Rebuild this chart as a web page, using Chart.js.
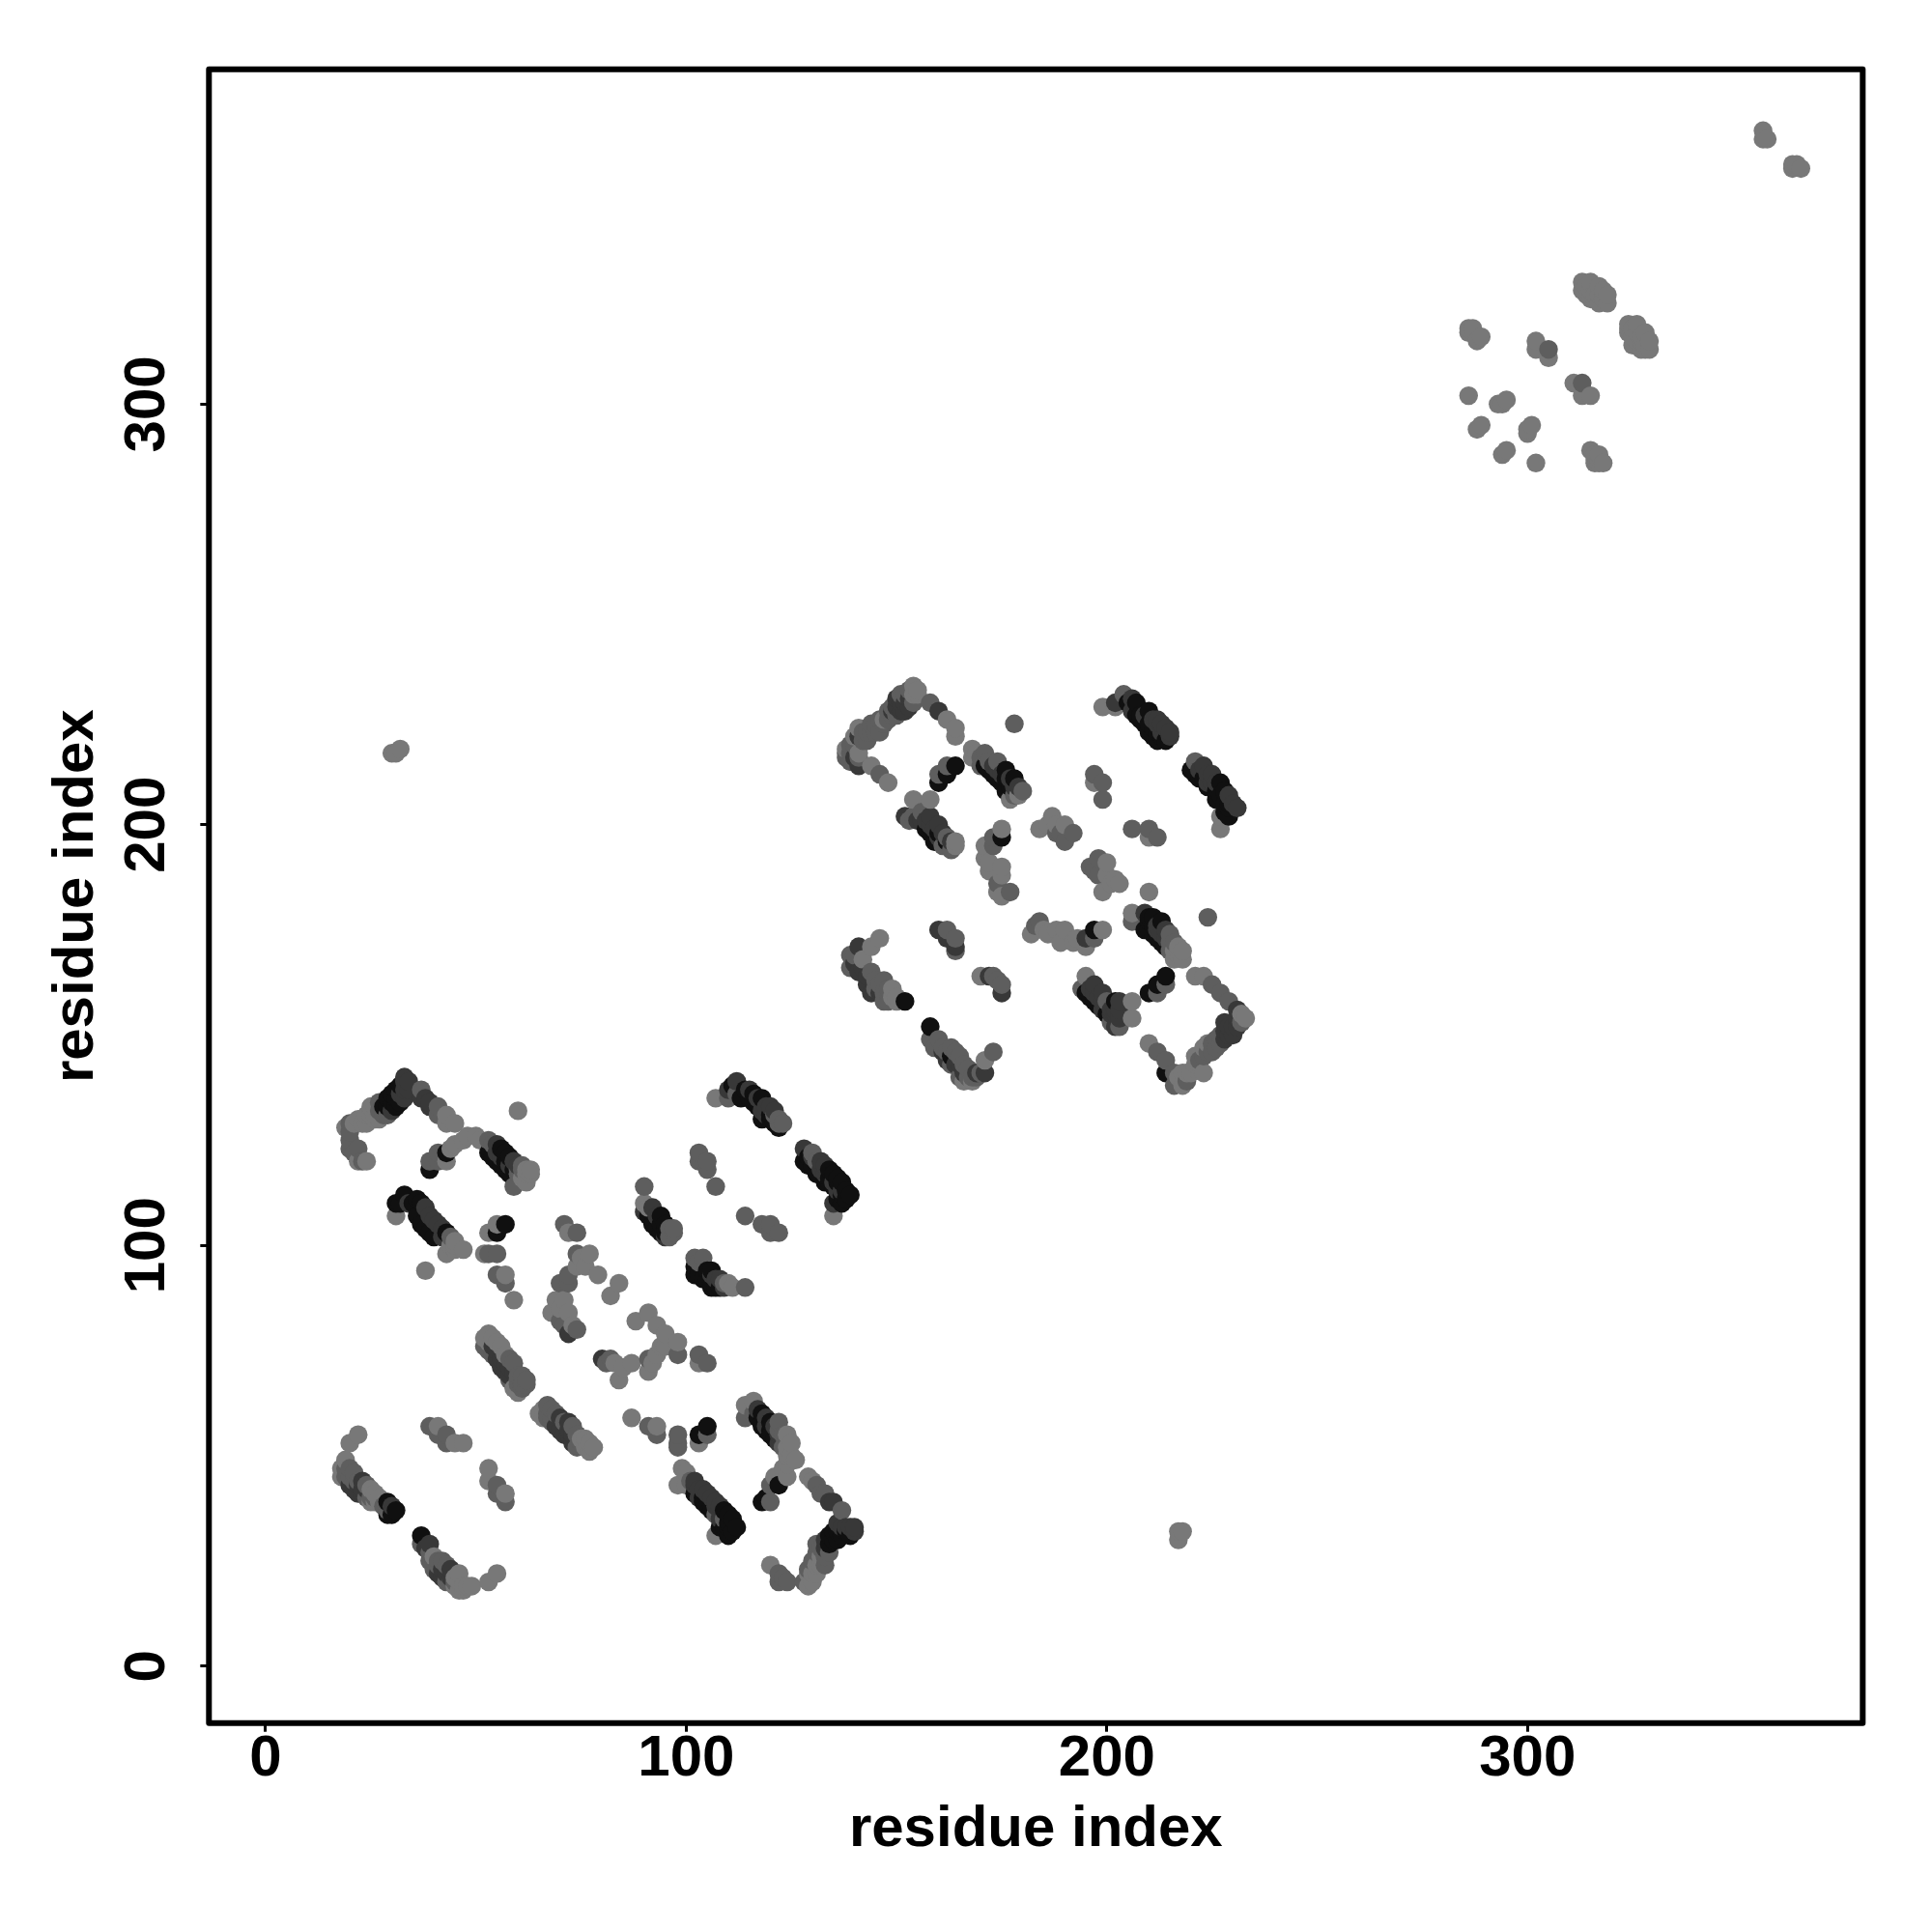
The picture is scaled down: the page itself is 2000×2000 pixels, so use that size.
<!DOCTYPE html>
<html><head><meta charset="utf-8">
<script src="https://cdn.jsdelivr.net/npm/chart.js@4"></script>
<style>html,body{margin:0;padding:0;background:#fff}canvas{display:block}</style>
</head><body><canvas id="c" width="2000" height="2000"></canvas>
<script>
// each contact: [residue i, residue j, strength level]
const xTicks=[0,100,200,300];
const yTicks=[0,100,200,300];
const axisLabel="residue index";
const levelGrays=[120,94,56,16];
const domainA1=[[19,128,0],[20,127,1],[20,129,1],[21,129,0],[22,130,0],[23,129,0],[24,131,0],[25,131,0],[26,131,0],[27,132,1],[28,133,3],[29,133,3],[29,135,3],[30,134,3],[30,136,3],[31,135,3],[31,137,3],[32,136,2],[32,138,3],[33,137,2],[33,139,2],
[24,129,0],[25,133,0],[26,133,0],[27,130,0],[28,131,1],[29,131,1],[30,132,2],[31,133,3],[32,134,3],[33,135,2],[34,137,2],[34,139,2],[33,140,2],[27,134,1],[26,130,0],
[20,125,1],[20,123,1],[21,122,1],[22,123,1],[22,120,0],[23,120,1],[24,120,0],
[37,137,1],[37,135,2],[38,135,2],[39,134,2],[39,133,2],[41,133,1],[41,131,1],[43,131,0],[43,129,0],[45,129,0],
[39,118,3],[39,120,1],[41,122,1],[41,120,1],[43,122,3],[43,120,0],[44,123,0],[45,124,0],[47,125,0],[48,126,0],[50,126,0],[51,125,0],[53,125,1],[53,122,3],[54,121,3],[55,124,2],[55,120,3],[56,123,3],[56,119,3],[57,122,3],[57,118,3],[58,121,3],[58,117,3],[59,120,2],[59,114,1],[60,119,2],[60,118,1],[61,116,0],[62,117,0],[63,118,0],
[54,124,1],[55,122,2],[56,121,2],[57,120,3],[58,119,2],[59,118,3],[60,117,1],[61,118,1],[62,115,0],[61,119,1],[62,118,0],[63,117,0],
[60,132,0]];
const domainA2=[[31,110,3],[31,107,0],[32,110,3],[33,112,3],[34,110,2],[35,110,3],[36,111,3],[37,110,3],[36,107,3],[37,105,3],[38,109,2],[38,104,3],[39,107,2],[39,103,3],[40,106,2],[40,102,3],[41,105,2],[42,104,2],[42,102,2],[43,103,3],[43,98,0],[44,100,0],[45,101,0],[45,99,0],[47,99,0],[38,94,0],[44,102,1],[45,100,0],
[52,98,0],[53,98,1],[55,98,1],[53,103,0],[55,103,3],[55,105,0],[57,105,3],[55,93,1],[57,93,0],[57,91,1],[59,87,0],
[71,105,1],[72,103,0],[74,103,1],[74,98,1],[77,98,0],[76,95,0],[74,95,0],[75,97,0],[79,93,0],[84,91,0],[82,88,0],[70,91,1],[72,93,1],[72,91,1],[71,87,0],[69,87,0],[68,84,0],[70,85,0],[70,82,1],[72,84,0],[71,81,1],[72,79,2],[73,81,0],[74,80,1],
[88,82,0],[91,84,0],[93,81,0],[95,79,0],[95,76,0],[98,77,0],[98,74,1],[93,74,0],[94,76,0],[91,73,1],[91,70,0],[92,72,0],[87,72,0],[84,68,0],[83,72,0],[85,71,0],[82,73,1],[80,73,2],[81,72,1],[103,74,1],[103,72,0],[105,72,1]];
const domainA3=[[52,78,0],[52,76,1],[53,77,0],[54,74,1],[55,75,2],[54,76,2],[56,76,0],[57,74,0],[56,71,2],[57,72,2],[58,71,2],[59,70,2],[60,69,1],[61,69,1],[59,66,0],[60,67,1],[61,67,1],[58,68,1],
[53,75,1],[55,73,2],[56,73,2],[58,73,1],[59,72,1],[57,70,2],[58,69,2],[60,68,1],[61,66,1],[62,68,1],[62,67,1],[60,65,0],[53,79,0],[54,78,0],[55,77,0],
[66,61,0],[67,62,1],[66,59,0],[68,61,1],[68,58,1],[69,60,1],[70,59,2],[70,56,2],[71,55,2],[72,58,2],[73,57,1],[73,53,2],[74,55,1],[75,54,0],[74,52,1],[76,52,0],[77,53,0],[78,52,0],
[69,57,2],[71,58,1],[72,55,2],[73,55,2],[75,53,1],[76,54,0],[77,51,0],[72,56,2],[68,59,1],[67,60,1],[65,60,0],[67,59,1],
[87,59,0],[91,57,1],[93,57,0],[93,55,1],[98,55,1],[98,52,1],[98,53,1],[103,55,3],[103,53,0],[105,55,1],[105,57,3],
[114,62,0],[114,59,1],[116,63,0],[116,60,1],[117,61,2],[118,60,3],[118,57,3],[119,59,2],[119,56,3],[120,58,3],[120,55,3],[121,57,2],[121,54,3],[122,56,1],[122,53,2],[123,52,1],[124,55,0],[124,52,0],[124,50,0],[125,53,0],[125,50,0],[126,49,0],[124,48,0],[124,45,0],[123,47,0],[121,45,0],[122,43,3],[120,43,1],[119,40,3],[118,39,3],[120,39,1],
[118,58,3],[117,59,3],[119,57,2],[120,56,3],[122,58,1],[123,55,1],[122,55,2],
[99,47,0],[98,43,0],[100,46,0],[100,43,0],[102,43,2],[102,41,3],[103,42,2],[104,40,3],[104,39,3],[105,41,2],[106,38,3],[106,37,3],[107,39,2],[107,36,1],[108,35,2],[109,37,3],[110,34,3],[110,36,3],[110,31,3],[112,33,3],[107,31,0],[109,33,3],
[103,40,2],[105,38,3],[107,38,2],[108,37,2],[109,35,1],[111,35,3],[111,32,3],[108,33,3],[110,33,3],[101,44,1],[102,44,2],[104,42,2],[106,40,2],[108,38,2],
[129,45,0],[130,44,0],[131,43,1],[132,41,1],[133,41,1],[134,39,2],[135,39,2],[137,37,1],[136,32,3],[137,31,3],[138,33,2],[139,33,2],[140,33,2],[135,30,3],[136,30,3],[134,29,3],[133,28,2],[131,29,1],[131,27,1],[132,26,0],[133,24,1],[131,24,0],[130,25,1],[129,22,0],[128,20,1],[130,22,0],[120,24,0],[122,22,1],[124,20,1],[122,20,1],[123,21,1],[129,19,0],
[134,31,3],[135,32,3],[137,33,2],[138,32,3],[133,30,2],[134,27,1],[132,28,1],[133,26,1],[132,24,0],[131,22,0],[130,20,0],[129,23,1],[136,34,2],[139,31,3],[140,32,2]];
const domainA4=[[107,135,0],[110,135,1],[110,137,2],[111,138,3],[112,139,2],[112,136,1],[114,137,3],[115,135,3],[116,136,3],[117,133,3],[118,135,3],[118,130,3],[119,133,2],[120,131,3],[120,133,2],[121,129,3],[121,131,1],[122,130,1],[122,128,3],[123,129,1],
[113,135,3],[115,137,2],[116,134,3],[117,135,2],[118,132,2],[119,131,2],[120,130,3],[121,132,2],[122,129,1],
[128,123,2],[128,120,3],[129,121,3],[130,122,1],[130,119,3],[131,117,3],[132,120,2],[133,115,3],[133,119,2],[134,118,3],[135,117,3],[135,114,3],[136,116,3],[136,113,2],[137,115,3],[135,110,2],[135,107,0],[137,110,3],[138,113,3],[139,112,3],
[129,119,3],[130,121,2],[131,120,1],[132,118,2],[133,117,2],[134,116,3],[135,115,2],[136,115,3],[137,112,3],[136,111,3],[137,113,2],[138,111,3],[134,115,3],
[103,122,1],[105,120,1],[103,120,1],[105,118,1],[107,114,1],[114,107,1],[118,105,1],[120,105,1],[122,103,1],[120,103,1],
[90,114,1],[90,110,0],[90,108,2],[91,107,3],[92,109,2],[92,105,3],[93,104,3],[94,107,3],[94,103,3],[95,105,3],[95,102,2],[97,104,1],
[91,109,0],[93,107,2],[94,105,3],[95,104,3],[96,104,1],[96,102,1],[97,103,1],[95,103,3],
[102,97,1],[104,97,1],[102,95,3],[102,93,3],[104,92,3],[105,94,3],[106,94,3],[106,91,3],[107,90,3],[108,92,2],[109,90,2],[111,90,0],[114,90,1],
[103,96,1],[103,93,3],[105,92,3],[106,93,2],[106,90,3],[107,92,2],[108,90,3],[109,91,1],[110,91,0]];
const domainA5=[[22,55,0],[20,53,0],[19,49,0],[18,47,0],[18,45,0],[19,45,1],[20,43,2],[21,46,1],[21,44,1],[22,41,2],[22,44,1],[23,42,2],[23,44,2],[24,40,1],[24,43,1],[25,42,0],[26,39,0],[26,41,0],[27,39,0],[29,39,3],[29,37,1],[31,37,3],
[19,47,1],[20,47,1],[20,45,1],[21,42,2],[22,43,2],[23,41,2],[24,42,2],[25,40,1],[26,40,1],[27,40,0],[25,39,0],[28,38,1],[30,36,3],[29,36,3],[30,38,2],
[39,57,1],[41,57,0],[41,55,1],[43,55,1],[43,53,1],[45,53,0],[47,53,0],
[53,47,0],[53,44,0],[55,43,1],[55,41,1],[57,41,0],[57,39,1],
[37,31,3],[37,29,1],[39,29,2],[38,28,2],[40,26,0],[39,25,1],[40,23,1],[41,25,1],[41,22,2],[42,25,1],[42,21,2],[43,20,1],[44,23,2],[44,20,1],[45,21,0],[45,19,0],[46,22,0],[46,18,0],[47,19,0],[49,19,0],[53,20,0],[55,22,0],
[39,27,1],[41,24,1],[42,23,2],[43,22,2],[44,21,2],[45,20,1],[46,20,0],[47,18,0],[48,19,0],[43,24,1],[40,25,1]];
const domainB1=[[154,233,0],[154,231,0],[154,229,1],[152,229,2],[150,230,2],[149,228,1],[148,225,1],[147,225,0],[145,224,1],[141,223,0],[144,222,1],[141,221,2],[138,218,0],[141,217,0],[138,216,1],[140,219,1],[141,214,2],[144,214,0],[146,212,1],[148,210,0],[143,220,1],[146,222,1],[152,227,2],[151,229,2],
[153,232,1],[153,230,2],[152,231,1],[151,227,2],[150,228,2],[149,227,2],[149,226,1],[148,227,1],[147,224,1],[146,225,1],[145,222,1],[144,224,1],[143,222,1],[142,222,1],[142,220,1],[140,221,0],[139,217,1],[139,219,1],[140,216,2],[139,215,1],[141,216,1],[138,217,1],[155,231,0],[155,232,0],[151,231,1],[153,228,2],[150,226,1],
[158,229,1],[160,227,2],[162,225,0],[164,223,0],[164,221,0],
[178,224,1],
[160,210,3],[160,212,1],[162,212,3],[162,214,1],[164,214,3],
[168,218,0],[168,216,0],[170,216,1],[171,217,1],[174,215,1],[176,213,3],[178,211,3],[179,209,2],[177,206,0],[179,207,0],[171,214,3],[172,213,3],[173,212,3],[175,210,3],[176,208,3],[177,211,2],
[172,215,1],[173,214,2],[174,213,2],[175,212,2],[176,211,3],[177,209,3],[178,209,2],[178,207,1],[169,217,0],[170,214,1],[180,208,1],[174,211,3],
[154,206,0],[158,206,0],[152,202,2],[154,202,1],[156,203,1],[158,202,2],[157,199,3],[160,200,2],[159,196,3],[162,197,1],[161,195,1],[164,195,0],[156,201,2],[158,198,3],[160,197,2],
[155,201,2],[157,201,2],[158,200,2],[159,199,2],[160,198,3],[161,198,2],[162,196,3],[163,196,2],[163,194,1],[164,196,0],[153,201,1]];
const domainB2=[[175,199,0],[175,197,3],[173,197,1],[173,195,1],[171,195,0],[171,192,0],[172,189,0],[175,190,0],[175,188,0],[174,184,0],[177,184,1],[175,183,0],[174,186,1],[172,191,0],
[184,199,0],[187,202,0],[186,200,0],[188,198,1],[190,200,0],[192,198,1],[190,196,1],[188,200,0],[189,198,1],
[197,212,1],[199,210,1],[197,210,0],[199,206,1],[206,199,1],[210,199,1],[210,197,0],[212,197,1],
[198,192,1],[196,190,1],[198,188,1],[200,191,0],[202,187,0],[200,188,0],[199,184,0],[201,186,0],[203,186,0],[197,189,1],[210,184,0],
[199,228,0],[202,228,0],[202,229,2],[204,231,1],[205,229,3],[207,229,3],[206,227,2],[208,226,3],[210,227,3],[209,224,3],[211,225,2],[210,224,3],[212,222,3],[212,225,2],[213,221,3],[214,223,2],[215,221,2],[214,220,3],
[207,226,3],[208,225,3],[209,226,2],[211,223,3],[212,224,2],[213,222,2],[213,224,2],[215,222,2],[210,222,3],[211,221,3],[212,220,3],[206,230,2],
[220,213,3],[221,215,1],[223,214,2],[222,211,3],[224,212,2],[224,209,3],[225,212,2],[226,208,3],[227,210,3],[227,207,3],[228,208,3],[229,207,2],[229,205,3],[231,204,2],[229,202,3],[227,199,0],[227,202,0],
[221,212,3],[222,213,2],[223,211,3],[224,210,2],[225,210,2],[226,210,2],[226,206,3],[228,205,3],[229,204,3],[230,205,2],[228,203,3]];
const domainB3=[[146,173,0],[144,171,0],[141,171,2],[139,169,1],[139,166,1],[142,168,0],[141,165,2],[144,165,1],[147,163,1],[149,161,0],[149,159,0],[152,158,3],[144,160,2],[147,158,1],[143,162,2],[146,160,2],[148,160,1],
[140,169,1],[140,167,2],[142,166,2],[143,164,2],[145,163,1],[145,161,1],[146,162,1],[148,161,1],[147,160,1],[148,158,1],[150,159,0],[150,158,0],
[160,175,2],[162,175,1],[162,173,2],[164,173,1],[164,170,1],[164,171,2],
[170,164,0],[172,164,2],[173,164,1],[174,163,1],[175,162,1],[175,160,2],
[158,152,3],[158,149,1],[160,149,1],[160,147,1],[161,146,2],[163,147,1],[165,145,1],[162,144,2],[164,143,2],[163,145,3],[166,141,2],[166,139,0],[169,141,2],[168,139,0],[171,141,2],[170,141,1],[171,144,0],[173,146,1],[168,140,1],[167,142,1],
[159,147,1],[161,147,1],[162,146,1],[163,143,1],[164,146,1],[165,143,2],[165,140,1],[167,140,1],[169,140,1],[166,143,1],
[183,176,1],[184,177,1],[182,174,0],[185,175,0],[188,175,0],[190,175,0],[189,172,0],[192,172,0],[195,171,0],[195,173,2],[197,175,3],[197,173,1],[199,175,0],[186,174,0],[193,173,0],
[195,164,0],[194,161,1],[197,162,2],[197,160,2],[199,160,2],[196,159,3],[198,157,3],[202,158,3],[201,156,2],[206,158,0],[206,154,0],[203,154,2],[202,152,2],[200,158,1],[203,156,2],
[195,160,3],[196,161,2],[197,158,3],[198,159,2],[199,158,2],[199,156,2],[200,155,3],[201,155,2],[202,155,2],[202,156,2],[203,158,2],[201,153,1],[203,152,1],
[214,164,3],[212,162,3],[214,162,1],[210,160,3],[212,160,1],
[206,179,0],[206,177,1],[209,179,2],[211,178,3],[213,177,3],[209,175,3],[212,173,3],[215,174,1],[214,171,3],[215,172,1],[217,171,0],[218,168,0],[216,168,0],[217,170,0],[224,178,1],[210,177,3],[211,174,3],
[210,178,3],[211,176,3],[212,175,2],[212,176,2],[213,174,2],[214,175,2],[214,173,2],[215,170,1],[216,172,1],[216,170,0],[217,169,0],[218,170,0],[213,172,3],[210,175,3],
[221,164,0],[223,164,0],[225,162,1],[227,160,1],[229,158,1],
[233,154,0],[231,154,2],[230,152,2],[229,152,2],[228,151,2],[227,150,1],[226,149,1],[225,148,1],[223,147,0],[223,145,1],[221,145,0],[221,143,0],[223,141,0],[220,141,0],[218,141,0],[216,138,1],[218,138,0],[216,141,1],[214,141,3],[214,144,1],[212,146,1],[210,148,0],[219,139,1],[217,140,0],[232,153,1],
[231,152,2],[230,150,2],[229,150,2],[228,149,2],[227,148,1],[226,147,1],[225,146,1],[224,148,0],[224,146,1],[222,144,1],[222,143,0],[221,142,0],[219,141,0],[232,155,0],[231,156,2],[228,153,2]];
const domainC=[[356,365,0],[356,363,0],[357,363,0],[363,357,0],[363,356,0],[365,356,0],[364,357,0],
[313,329,0],[315,329,0],[317,328,0],[313,327,0],[315,325,0],[317,324,0],[319,326,0],[319,324,0],[314,328,0],[316,326,0],[318,325,0],
[314,326,0],[316,325,0],[318,327,0],[317,326,0],[315,327,0],
[324,319,0],[326,319,0],[324,317,0],[328,317,0],[326,315,0],[329,315,0],[329,313,0],[327,313,0],[325,316,0],[328,314,0],
[325,314,0],[326,317,0],[327,316,0],[324,318,0],[325,318,0],[327,315,0],[328,313,0],
[286,318,0],[287,318,0],[286,317,0],[289,316,0],[288,315,0],
[302,315,0],[302,313,0],[305,313,1],[305,311,0],[311,305,0],[313,305,1],[313,302,0],[315,302,0],
[286,302,0],[293,300,0],[294,300,0],[295,301,0],[289,295,0],[288,294,0],[301,295,0],[300,294,0],[300,293,0],
[295,289,0],[294,288,0],[302,286,0],[315,289,0],[316,288,0],[317,287,0],[318,286,0],[316,287,0],[317,288,0],[316,286,0],[317,286,0]];
const outlierPairs=[[30,217,0],[31,217,0],[32,218,0],[217,32,0],[218,32,0],[217,30,0]];

const contacts=[...domainA1,...domainA2,...domainA3,...domainA4,...domainA5,...domainB1,...domainB2,...domainB3,...domainC,...outlierPairs]
  .slice().sort((a,b)=>a[0]-b[0]||a[1]-b[1]);
const points=contacts.map(c=>({x:c[0],y:c[1]}));
const colors=contacts.map(c=>{const g=levelGrays[c[2]];return `rgb(${g},${g},${g})`;});

const FONT={family:"'Liberation Sans'",size:60,weight:'bold'};
const framePlugin={id:'frame',afterDatasetsDraw(ch){
  const a=ch.chartArea,c=ch.ctx;c.save();c.strokeStyle='#000';c.lineWidth=6;c.lineJoin='round';
  c.strokeRect(a.left,a.top,a.right-a.left,a.bottom-a.top);c.restore();}};
new Chart(document.getElementById('c'),{
  type:'scatter',
  data:{datasets:[{data:points,pointRadius:9.7,pointHoverRadius:9.7,pointBorderWidth:0,pointBackgroundColor:colors,showLine:false}]},
  options:{responsive:false,animation:false,
    layout:{padding:{top:71.7,right:71.7,left:0,bottom:0}},
    plugins:{legend:{display:false},tooltip:{enabled:false}},
    scales:{
      x:{type:'linear',min:-13.48,max:379.7,
        afterBuildTicks(s){s.ticks=xTicks.map(v=>({value:v}));},
        afterFit(s){s.height=216.3;},
        border:{display:false},
        grid:{drawOnChartArea:false,drawTicks:true,tickLength:9,tickWidth:3,tickColor:'#000'},
        ticks:{color:'#000',font:FONT,padding:-7,maxRotation:0,autoSkip:false},
        title:{display:true,text:axisLabel,color:'#000',font:FONT,padding:{top:0,bottom:70}}},
      y:{type:'linear',min:-13.55,max:379.6,
        afterBuildTicks(s){s.ticks=yTicks.map(v=>({value:v}));},
        afterFit(s){s.width=216.3;},
        border:{display:false},
        grid:{drawOnChartArea:false,drawTicks:true,tickLength:9,tickWidth:3,tickColor:'#000'},
        ticks:{color:'#000',font:FONT,padding:4,minRotation:90,maxRotation:90,crossAlign:'center',autoSkip:false},
        title:{display:true,text:axisLabel,color:'#000',font:FONT,padding:{top:43,bottom:0}}}
    }},
  plugins:[framePlugin]
});
</script></body></html>
